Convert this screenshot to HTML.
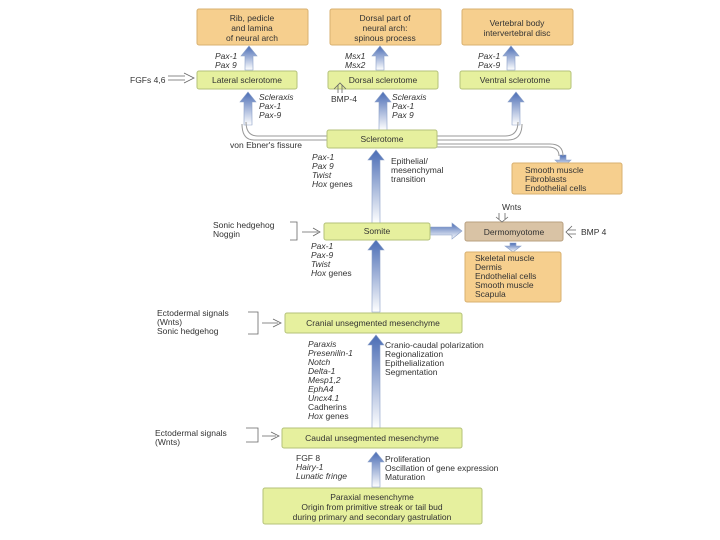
<!DOCTYPE html>
<html><head><meta charset="utf-8"><style>
html,body{margin:0;padding:0;background:#fff;}
svg{display:block;}
text{font-family:"Liberation Sans",sans-serif;font-size:8.5px;fill:#333;}
.i{font-style:italic;}
.n{font-style:normal;}
</style></head><body>
<svg width="720" height="540" viewBox="0 0 720 540" xmlns="http://www.w3.org/2000/svg">
<defs>
<linearGradient id="gv" x1="0" y1="1" x2="0" y2="0">
<stop offset="0" stop-color="#ffffff"/><stop offset="1" stop-color="#4a6cb5"/>
</linearGradient>
</defs>
<g fill="url(#gv)" stroke="#8aa0c8" stroke-width="0.6">
<path d="M372,487 V462 H368 L376,452 L384,462 H380 V487Z"/>
<path d="M372,428 V345 H368 L376,335 L384,345 H380 V428Z"/>
<path d="M372,312 V250 H368 L376,240 L384,250 H380 V312Z"/>
<path d="M372,223 V160 H368 L376,150 L384,160 H380 V223Z"/>
<path d="M379,130 V102 H375 L383,92 L391,102 H387 V130Z"/>
<path d="M244,125 V102 H240 L248,92 L256,102 H252 V125Z"/>
<path d="M512,125 V102 H508 L516,92 L524,102 H520 V125Z"/>
<path d="M245,70 V56 H241 L249,46 L257,56 H253 V70Z"/>
<path d="M376,70 V56 H372 L380,46 L388,56 H384 V70Z"/>
<path d="M507,70 V56 H503 L511,46 L519,56 H515 V70Z"/>
<path d="M430,227 H452 V223 L462,231 L452,239 V235 H430Z"/>
<path d="M510,243 V246 H505 L513,252 L521,246 H516 V243Z"/>
<path d="M560,155 V160 H555 L563,167 L571,160 H566 V155Z"/>
</g>
<g fill="none" stroke="#999" stroke-width="1">
<path d="M327,136 H258 Q246,136 246,122"/><path d="M327,140 H254 Q242,140 242,124"/>
<path d="M437,136 H505 Q518,136 518,122"/><path d="M437,140 H508 Q522,140 522,124"/>
<path d="M437,144 H550 Q563,144 563,156"/><path d="M437,147 H548 Q559,147 559,156"/>
</g>
<g fill="#f6cf8e" stroke="#d8b070" stroke-width="1">
<rect x="197" y="9" width="111" height="36" rx="2"/>
<rect x="330" y="9" width="111" height="36" rx="2"/>
<rect x="462" y="9" width="111" height="36" rx="2"/>
<rect x="512" y="163" width="110" height="31" rx="2"/>
<rect x="465" y="252" width="96" height="50" rx="2"/>
</g>
<rect x="465" y="222" width="98" height="19" rx="2" fill="#d9c3a5" stroke="#b9a080"/>
<g fill="#e6f09e" stroke="#b4c27a" stroke-width="1">
<rect x="197" y="71" width="100" height="18" rx="2"/>
<rect x="328" y="71" width="110" height="18" rx="2"/>
<rect x="460" y="71" width="111" height="18" rx="2"/>
<rect x="327" y="130" width="110" height="18" rx="2"/>
<rect x="324" y="223" width="106" height="17" rx="2"/>
<rect x="285" y="313" width="177" height="20" rx="2"/>
<rect x="282" y="428" width="180" height="20" rx="2"/>
<rect x="263" y="488" width="219" height="36" rx="2"/>
</g>
<g text-anchor="middle">
<text x="252" y="21">Rib, pedicle</text><text x="252" y="31">and lamina</text><text x="252" y="41">of neural arch</text>
<text x="385" y="21">Dorsal part of</text><text x="385" y="31">neural arch:</text><text x="385" y="41">spinous process</text>
<text x="517" y="26">Vertebral body</text><text x="517" y="36">intervertebral disc</text>
<text x="247" y="83">Lateral sclerotome</text>
<text x="383" y="83">Dorsal sclerotome</text>
<text x="515" y="83">Ventral sclerotome</text>
<text x="382" y="142">Sclerotome</text>
<text x="377" y="234">Somite</text>
<text x="514" y="235">Dermomyotome</text>
<text x="373" y="326">Cranial unsegmented mesenchyme</text>
<text x="372" y="441">Caudal unsegmented mesenchyme</text>
<text x="372" y="500">Paraxial mesenchyme</text>
<text x="372" y="510">Origin from primitive streak or tail bud</text>
<text x="372" y="520">during primary and secondary gastrulation</text>
</g>
<text x="525" y="173">Smooth muscle</text><text x="525" y="182">Fibroblasts</text><text x="525" y="191">Endothelial cells</text>
<text x="475" y="261">Skeletal muscle</text><text x="475" y="270">Dermis</text><text x="475" y="279">Endothelial cells</text><text x="475" y="288">Smooth muscle</text><text x="475" y="297">Scapula</text>
<g class="i">
<text x="215" y="59">Pax-1</text><text x="215" y="68">Pax 9</text>
<text x="345" y="59">Msx1</text><text x="345" y="68">Msx2</text>
<text x="478" y="59">Pax-1</text><text x="478" y="68">Pax-9</text>
<text x="259" y="100">Scleraxis</text><text x="259" y="109">Pax-1</text><text x="259" y="118">Pax-9</text>
<text x="392" y="100">Scleraxis</text><text x="392" y="109">Pax-1</text><text x="392" y="118">Pax 9</text>
<text x="312" y="160">Pax-1</text><text x="312" y="169">Pax 9</text><text x="312" y="178">Twist</text><text x="312" y="187">Hox <tspan class="n">genes</tspan></text>
<text x="311" y="249">Pax-1</text><text x="311" y="258">Pax-9</text><text x="311" y="267">Twist</text><text x="311" y="276">Hox <tspan class="n">genes</tspan></text>
<text x="308" y="347">Paraxis</text><text x="308" y="356">Presenilin-1</text><text x="308" y="365">Notch</text><text x="308" y="374">Delta-1</text><text x="308" y="383">Mesp1,2</text><text x="308" y="392">EphA4</text><text x="308" y="401">Uncx4.1</text><text x="308" y="410" class="n">Cadherins</text><text x="308" y="419">Hox <tspan class="n">genes</tspan></text>
<text x="296" y="461" class="n">FGF 8</text><text x="296" y="470">Hairy-1</text><text x="296" y="479">Lunatic fringe</text>
</g>
<text x="391" y="164">Epithelial/</text><text x="391" y="173">mesenchymal</text><text x="391" y="182">transition</text>
<text x="385" y="348">Cranio-caudal polarization</text><text x="385" y="357">Regionalization</text><text x="385" y="366">Epithelialization</text><text x="385" y="375">Segmentation</text>
<text x="385" y="462">Proliferation</text><text x="385" y="471">Oscillation of gene expression</text><text x="385" y="480">Maturation</text>
<text x="130" y="83">FGFs 4,6</text>
<text x="331" y="102">BMP-4</text>
<text x="230" y="148">von Ebner's fissure</text>
<text x="502" y="210">Wnts</text>
<text x="581" y="235">BMP 4</text>
<text x="213" y="228">Sonic hedgehog</text><text x="213" y="237">Noggin</text>
<text x="157" y="316">Ectodermal signals</text><text x="157" y="325">(Wnts)</text><text x="157" y="334">Sonic hedgehog</text>
<text x="155" y="436">Ectodermal signals</text><text x="155" y="445">(Wnts)</text>
<g fill="none" stroke="#666" stroke-width="0.8">
<path d="M168,80 H185 M168,76 H185 M184,73 L194,78 L184,83"/>
<path d="M338,93 V85 M342,93 V85 M334,89 L340,83 L346,89"/>
<path d="M499,213 V219 M505,213 V219 M496,217 L502,222 L508,217"/>
<path d="M576,230 H568 M576,234 H568 M572,226 L566,232 L572,238"/>
<path d="M290,222 H297 V240 H290 M302,232 H318 M313,228 L320,232 L313,236"/>
<path d="M248,312 H258 V334 H248 M262,323 H278 M273,319 L281,323 L273,327"/>
<path d="M246,428 H258 V442 H246 M262,436 H276 M271,432 L279,436 L271,440"/>
</g>
</svg>
</body></html>
